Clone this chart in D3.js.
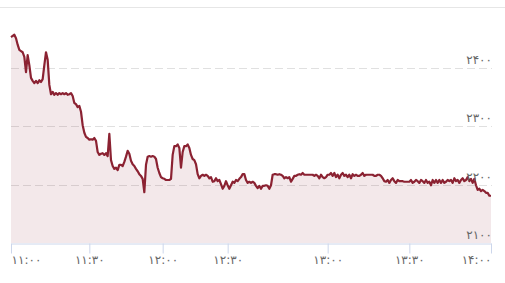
<!DOCTYPE html>
<html>
<head>
<meta charset="utf-8">
<script src="https://cdn.jsdelivr.net/npm/d3@7"></script>
<style>
  html, body { margin: 0; padding: 0; background: #fff; }
  svg { display: block; font-family: "DejaVu Sans", sans-serif; }
</style>
</head>
<body>
<div id="chart"></div>
<script>
// price samples, evenly spaced in time (ordinal axis)
var prices = [
  2453, 2455, 2457, 2451, 2440, 2431, 2429, 2427, 2419, 2393,
  2422, 2405, 2383, 2378, 2374, 2378, 2374, 2379, 2376, 2381,
  2405, 2427, 2414, 2371, 2355, 2359, 2354, 2357, 2354, 2357,
  2355, 2357, 2355, 2357, 2354, 2355, 2357, 2352, 2340, 2338,
  2333, 2335, 2325, 2302, 2289, 2282, 2280, 2277, 2278, 2277,
  2280, 2275, 2256, 2251, 2253, 2254, 2251, 2254, 2249, 2287,
  2242, 2232, 2227, 2229, 2225, 2234, 2234, 2232, 2239, 2248,
  2258, 2253, 2241, 2235, 2232, 2227, 2223, 2218, 2215, 2210,
  2187, 2234, 2248, 2249, 2248, 2249, 2248, 2244, 2229, 2220,
  2213, 2211, 2210, 2208, 2208, 2208, 2210, 2251, 2266, 2266,
  2269, 2263, 2229, 2256, 2266, 2266, 2269, 2263, 2251, 2244,
  2242, 2235, 2218, 2211, 2215, 2217, 2215, 2217, 2215, 2211,
  2213, 2205, 2206, 2211, 2206, 2208, 2201, 2193, 2198, 2206,
  2199, 2193, 2199, 2205, 2203, 2208, 2206, 2210, 2213, 2218,
  2218, 2208, 2203, 2205, 2203, 2205, 2203, 2198, 2194, 2198,
  2193, 2198, 2198, 2199, 2198, 2193, 2199, 2217, 2218, 2218,
  2217, 2218, 2217, 2215, 2211, 2213, 2211, 2213, 2205, 2210,
  2215, 2215, 2217, 2218, 2217, 2220, 2217, 2217, 2217, 2217,
  2217, 2217, 2215, 2217, 2215, 2211, 2217, 2213, 2211, 2213,
  2217, 2217, 2220, 2215, 2220, 2213, 2217, 2211, 2217, 2220,
  2215, 2217, 2213, 2217, 2211, 2218, 2215, 2217, 2215, 2215,
  2217, 2220, 2215, 2217, 2217, 2217, 2217, 2217, 2215, 2215,
  2217, 2217, 2215, 2211, 2206, 2205, 2208, 2203, 2208, 2211,
  2206, 2203, 2208, 2206, 2206, 2206, 2205, 2205, 2205, 2205,
  2208, 2203, 2205, 2208, 2206, 2203, 2208, 2206, 2203, 2208,
  2203, 2205, 2199, 2208, 2203, 2208, 2203, 2208, 2203, 2208,
  2203, 2205, 2208, 2206, 2208, 2203, 2211, 2206, 2208, 2203,
  2208, 2211, 2206, 2208, 2213, 2206, 2210, 2203, 2210, 2199,
  2191, 2193, 2189, 2191, 2189, 2186, 2186, 2181, 2181
];

// sample index where each time label sits
var tickIndex = [0, 47, 91, 130, 190, 239, 288];
var tickLabels = ['۱۱:۰۰', '۱۱:۳۰', '۱۲:۰۰', '۱۲:۳۰', '۱۳:۰۰', '۱۳:۳۰', '۱۴:۰۰'];

var yTicks = [2100, 2200, 2300, 2400];
var yTickLabels = ['۲۱۰۰', '۲۲۰۰', '۲۳۰۰', '۲۴۰۰'];

var width = 505, height = 283;
var plotLeft = 11, plotRight = 491, plotTop = 68, plotBottom = 243;

var svg = d3.select('#chart').append('svg')
  .attr('width', width)
  .attr('height', height);

var x = d3.scaleLinear().domain([0, prices.length - 1]).range([plotLeft, plotRight]);
var y = d3.scaleLinear().domain([2100, 2400]).range([plotBottom, plotTop]);

// top frame line
svg.append('line')
  .attr('x1', 0).attr('x2', width)
  .attr('y1', 7.5).attr('y2', 7.5)
  .attr('stroke', '#e6e6e6');

// horizontal grid
svg.append('g').selectAll('line')
  .data(yTicks.slice(1))
  .enter().append('line')
  .attr('x1', plotLeft).attr('x2', plotRight + 1)
  .attr('y1', function(d){ return Math.round(y(d)) + 0.5; })
  .attr('y2', function(d){ return Math.round(y(d)) + 0.5; })
  .attr('stroke', '#e0e0e0')
  .attr('stroke-dasharray', '8,4');

// area + line
var area = d3.area()
  .x(function(d, i){ return x(i); })
  .y0(y(2100))
  .y1(function(d){ return y(d); });

var line = d3.line()
  .x(function(d, i){ return x(i); })
  .y(function(d){ return y(d); });

svg.append('path')
  .datum(prices)
  .attr('d', area)
  .attr('fill', 'rgba(139,34,50,0.1)');

svg.append('path')
  .datum(prices)
  .attr('d', line)
  .attr('fill', 'none')
  .attr('stroke', '#8b2232')
  .attr('stroke-width', 2.2)
  .attr('stroke-linejoin', 'round');

// y labels (right side, above the grid lines)
svg.append('g').selectAll('text')
  .data(yTicks)
  .enter().append('text')
  .attr('x', plotRight + 1)
  .attr('y', function(d){ return y(d) - 4; })
  .attr('text-anchor', 'end')
  .attr('fill', '#666')
  .attr('font-size', 12)
  .text(function(d, i){ return yTickLabels[i]; });

// bottom axis
var xAxis = d3.axisBottom(x)
  .tickValues(tickIndex)
  .tickFormat(function(d, i){ return tickLabels[i]; })
  .tickSize(10)
  .tickSizeOuter(0);

var gx = svg.append('g')
  .attr('transform', 'translate(0,' + (plotBottom + 0.5) + ')')
  .call(xAxis);

gx.select('.domain').attr('stroke', '#ccd6eb');
gx.selectAll('.tick line').attr('stroke', '#ccd6eb');
gx.selectAll('.tick text')
  .attr('fill', '#666')
  .attr('font-size', 12)
  .attr('font-family', '"DejaVu Sans", sans-serif')
  .attr('dy', '0.6em')
  .attr('y', 13)
  // keep first and last label inside the plot, like the original
  .attr('text-anchor', function(d, i){
    return i === 0 ? 'start' : (i === tickIndex.length - 1 ? 'end' : 'middle');
  });
</script>
</body>
</html>
